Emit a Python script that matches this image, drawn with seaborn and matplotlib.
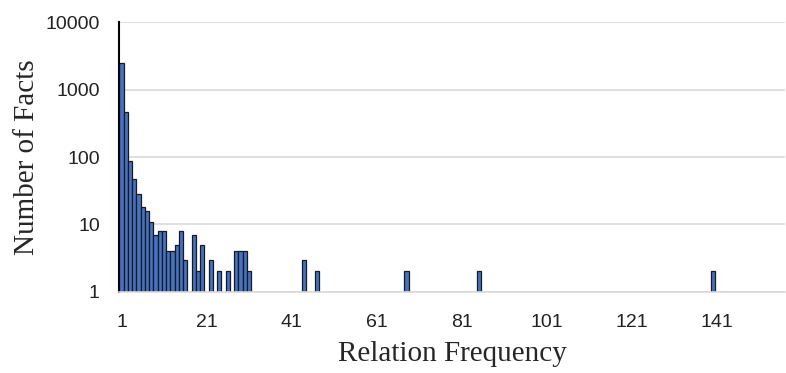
import numpy as np
import pandas as pd
import seaborn as sns
import matplotlib.pyplot as plt

# relation frequency -> number of facts (only non-empty bins)
freq = [1, 2, 3, 4, 5, 6, 7, 8, 9, 10, 11, 12, 13, 14, 15, 16,
        18, 19, 20, 22, 24, 26, 28, 29, 30, 31, 44, 47, 68, 85, 140]
facts = [2500, 460, 88, 47, 28, 18, 16, 11, 7, 8, 8, 4, 4, 5, 8, 3,
         7, 2, 5, 3, 2, 2, 4, 4, 4, 2, 3, 2, 2, 2, 2]
xticks = [1, 21, 41, 61, 81, 101, 121, 141]
yticks = [1, 10, 100, 1000, 10000]

df = pd.DataFrame({'freq': freq, 'facts': facts})

sns.set_style('white')
fig = plt.figure(figsize=(7.86, 3.73), dpi=100)
ax = fig.add_axes([0.1518, 0.218, 0.847, 0.722])

sns.barplot(data=df, x='freq', y='facts', native_scale=True, width=1.0,
            color='#4472C4', saturation=1, edgecolor='#1a1a1a', linewidth=0.9, ax=ax)

ax.set_yscale('log')
ax.set_ylim(1, 10000)
ax.set_xlim(0.5, 157)
ax.set_yticks(yticks)
ax.set_yticklabels([str(t) for t in yticks])
ax.set_xticks(xticks)
ax.set_xticklabels([str(t) for t in xticks])
ax.minorticks_off()
ax.tick_params(axis='both', length=0, labelsize=14)
ax.tick_params(axis='y', pad=14)
ax.tick_params(axis='x', pad=16)
for lab in ax.get_xticklabels() + ax.get_yticklabels():
    lab.set_fontfamily('Liberation Sans')
    lab.set_color('#222222')

ax.grid(axis='y', color='#d9d9d9', linewidth=1.2)
ax.set_axisbelow(True)
for s in ['top', 'right']:
    ax.spines[s].set_visible(False)
ax.spines['left'].set_color('black')
ax.spines['left'].set_linewidth(1.5)
ax.spines['bottom'].set_color('#d9d9d9')
ax.spines['bottom'].set_linewidth(1.2)

ax.set_xlabel('Relation Frequency', fontsize=21, family='Liberation Serif', labelpad=7)
ax.set_ylabel('Number of Facts', fontsize=21, family='Liberation Serif', labelpad=4)

fig.savefig('out.png', dpi=100)
